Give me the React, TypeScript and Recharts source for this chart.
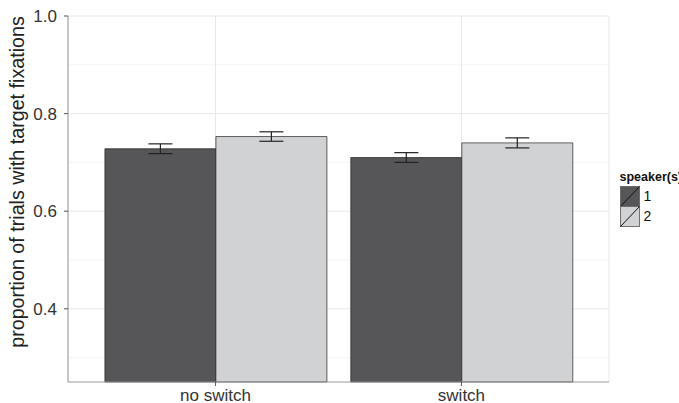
import React from "react";
import {
  BarChart,
  Bar,
  XAxis,
  YAxis,
  CartesianGrid,
  ErrorBar,
  Legend,
  Label,
} from "recharts";

const conditions = ["no switch", "switch"];
const speaker1 = [0.728, 0.71];
const speaker2 = [0.753, 0.74];
const speaker1Err = [0.01, 0.01];
const speaker2Err = [0.0097, 0.0103];
const yTicks = [0.4, 0.6, 0.8, 1.0];
const yMinor = [0.3, 0.5, 0.7, 0.9];
const speakerLabels = ["1", "2"];

const DARK = "#565658";
const LIGHT = "#d1d2d4";
const FONT = "'Liberation Sans', Arial, Helvetica, sans-serif";

const data = conditions.map((c, i) => ({
  condition: c,
  s1: speaker1[i],
  s2: speaker2[i],
  e1: speaker1Err[i],
  e2: speaker2Err[i],
}));

const YTick = (props: any) => {
  const { x, y, payload } = props;
  return (
    <text x={x - 5} y={y + 6} textAnchor="end" fontSize={17} fontFamily={FONT} fill="#333">
      {Number(payload.value).toFixed(1)}
    </text>
  );
};

const XTick = (props: any) => {
  const { x, y, payload } = props;
  return (
    <text x={x} y={y + 13} textAnchor="middle" fontSize={17} fontFamily={FONT} fill="#333">
      {payload.value}
    </text>
  );
};

const SpeakerLegend = () => {
  const colors = [DARK, LIGHT];
  return (
    <svg width={72} height={64} style={{ overflow: "visible" }}>
      <text x={7.5} y={14.5} fontSize={12.5} fontWeight="bold" fontFamily={FONT} fill="#111">
        speaker(s)
      </text>
      {speakerLabels.map((lab, i) => (
        <g key={lab}>
          <rect x={8.5} y={20.5 + i * 20} width={19} height={20} fill={colors[i]} stroke="#666" strokeWidth={0.9} />
          <line x1={8.5} y1={40.5 + i * 20} x2={27.5} y2={20.5 + i * 20} stroke="#111" strokeWidth={1} />
          <text x={31.5} y={35 + i * 20} fontSize={14} fontFamily={FONT} fill="#111">
            {lab}
          </text>
        </g>
      ))}
    </svg>
  );
};

export default function App() {
  return (
    <div style={{ position: "absolute", left: 0, top: 0, background: "#fff" }}>
      <BarChart
        width={679}
        height={403}
        data={data}
        margin={{ top: 16, right: 70, bottom: 0, left: 0 }}
        barCategoryGap="5%"
        barGap={0}
      >
        <CartesianGrid horizontalValues={yMinor} vertical={false} stroke="#f4f4f4" strokeWidth={1} />
        <CartesianGrid horizontalValues={yTicks} stroke="#e8e8e8" strokeWidth={1} />
        <XAxis
          dataKey="condition"
          height={21}
          padding={{ left: 24.6, right: 24.6 }}
          tick={<XTick />}
          tickLine={{ stroke: "#555" }}
          tickSize={4}
          axisLine={{ stroke: "#999" }}
        />
        <XAxis xAxisId="top" orientation="top" dataKey="condition" height={0} tick={false} tickLine={false} axisLine={{ stroke: "#999" }} />
        <YAxis
          width={68}
          domain={[0.25, 1.0]}
          ticks={yTicks}
          tick={<YTick />}
          tickLine={{ stroke: "#555" }}
          tickSize={4}
          axisLine={{ stroke: "#999" }}
        >
          <Label
            content={() => (
              <text
                x={24}
                y={182}
                transform="rotate(-90 24 182)"
                textAnchor="middle"
                fontSize={19.7}
                fontFamily={FONT}
                fill="#222"
              >
                proportion of trials with target fixations
              </text>
            )}
          />
        </YAxis>
        <YAxis yAxisId="right" orientation="right" width={0} tick={false} tickLine={false} axisLine={{ stroke: "#999" }} />
        <Legend
          layout="vertical"
          align="center"
          verticalAlign="middle"
          content={<SpeakerLegend />}
          wrapperStyle={{ left: 612, top: 166, width: 72, height: 64 }}
        />
        <Bar dataKey="s1" fill={DARK} stroke="#222" strokeWidth={0.7} isAnimationActive={false}>
          <ErrorBar dataKey="e1" width={12} stroke="#222" strokeWidth={1.2} direction="y" />
        </Bar>
        <Bar dataKey="s2" fill={LIGHT} stroke="#222" strokeWidth={0.7} isAnimationActive={false}>
          <ErrorBar dataKey="e2" width={12} stroke="#222" strokeWidth={1.2} direction="y" />
        </Bar>
      </BarChart>
    </div>
  );
}
